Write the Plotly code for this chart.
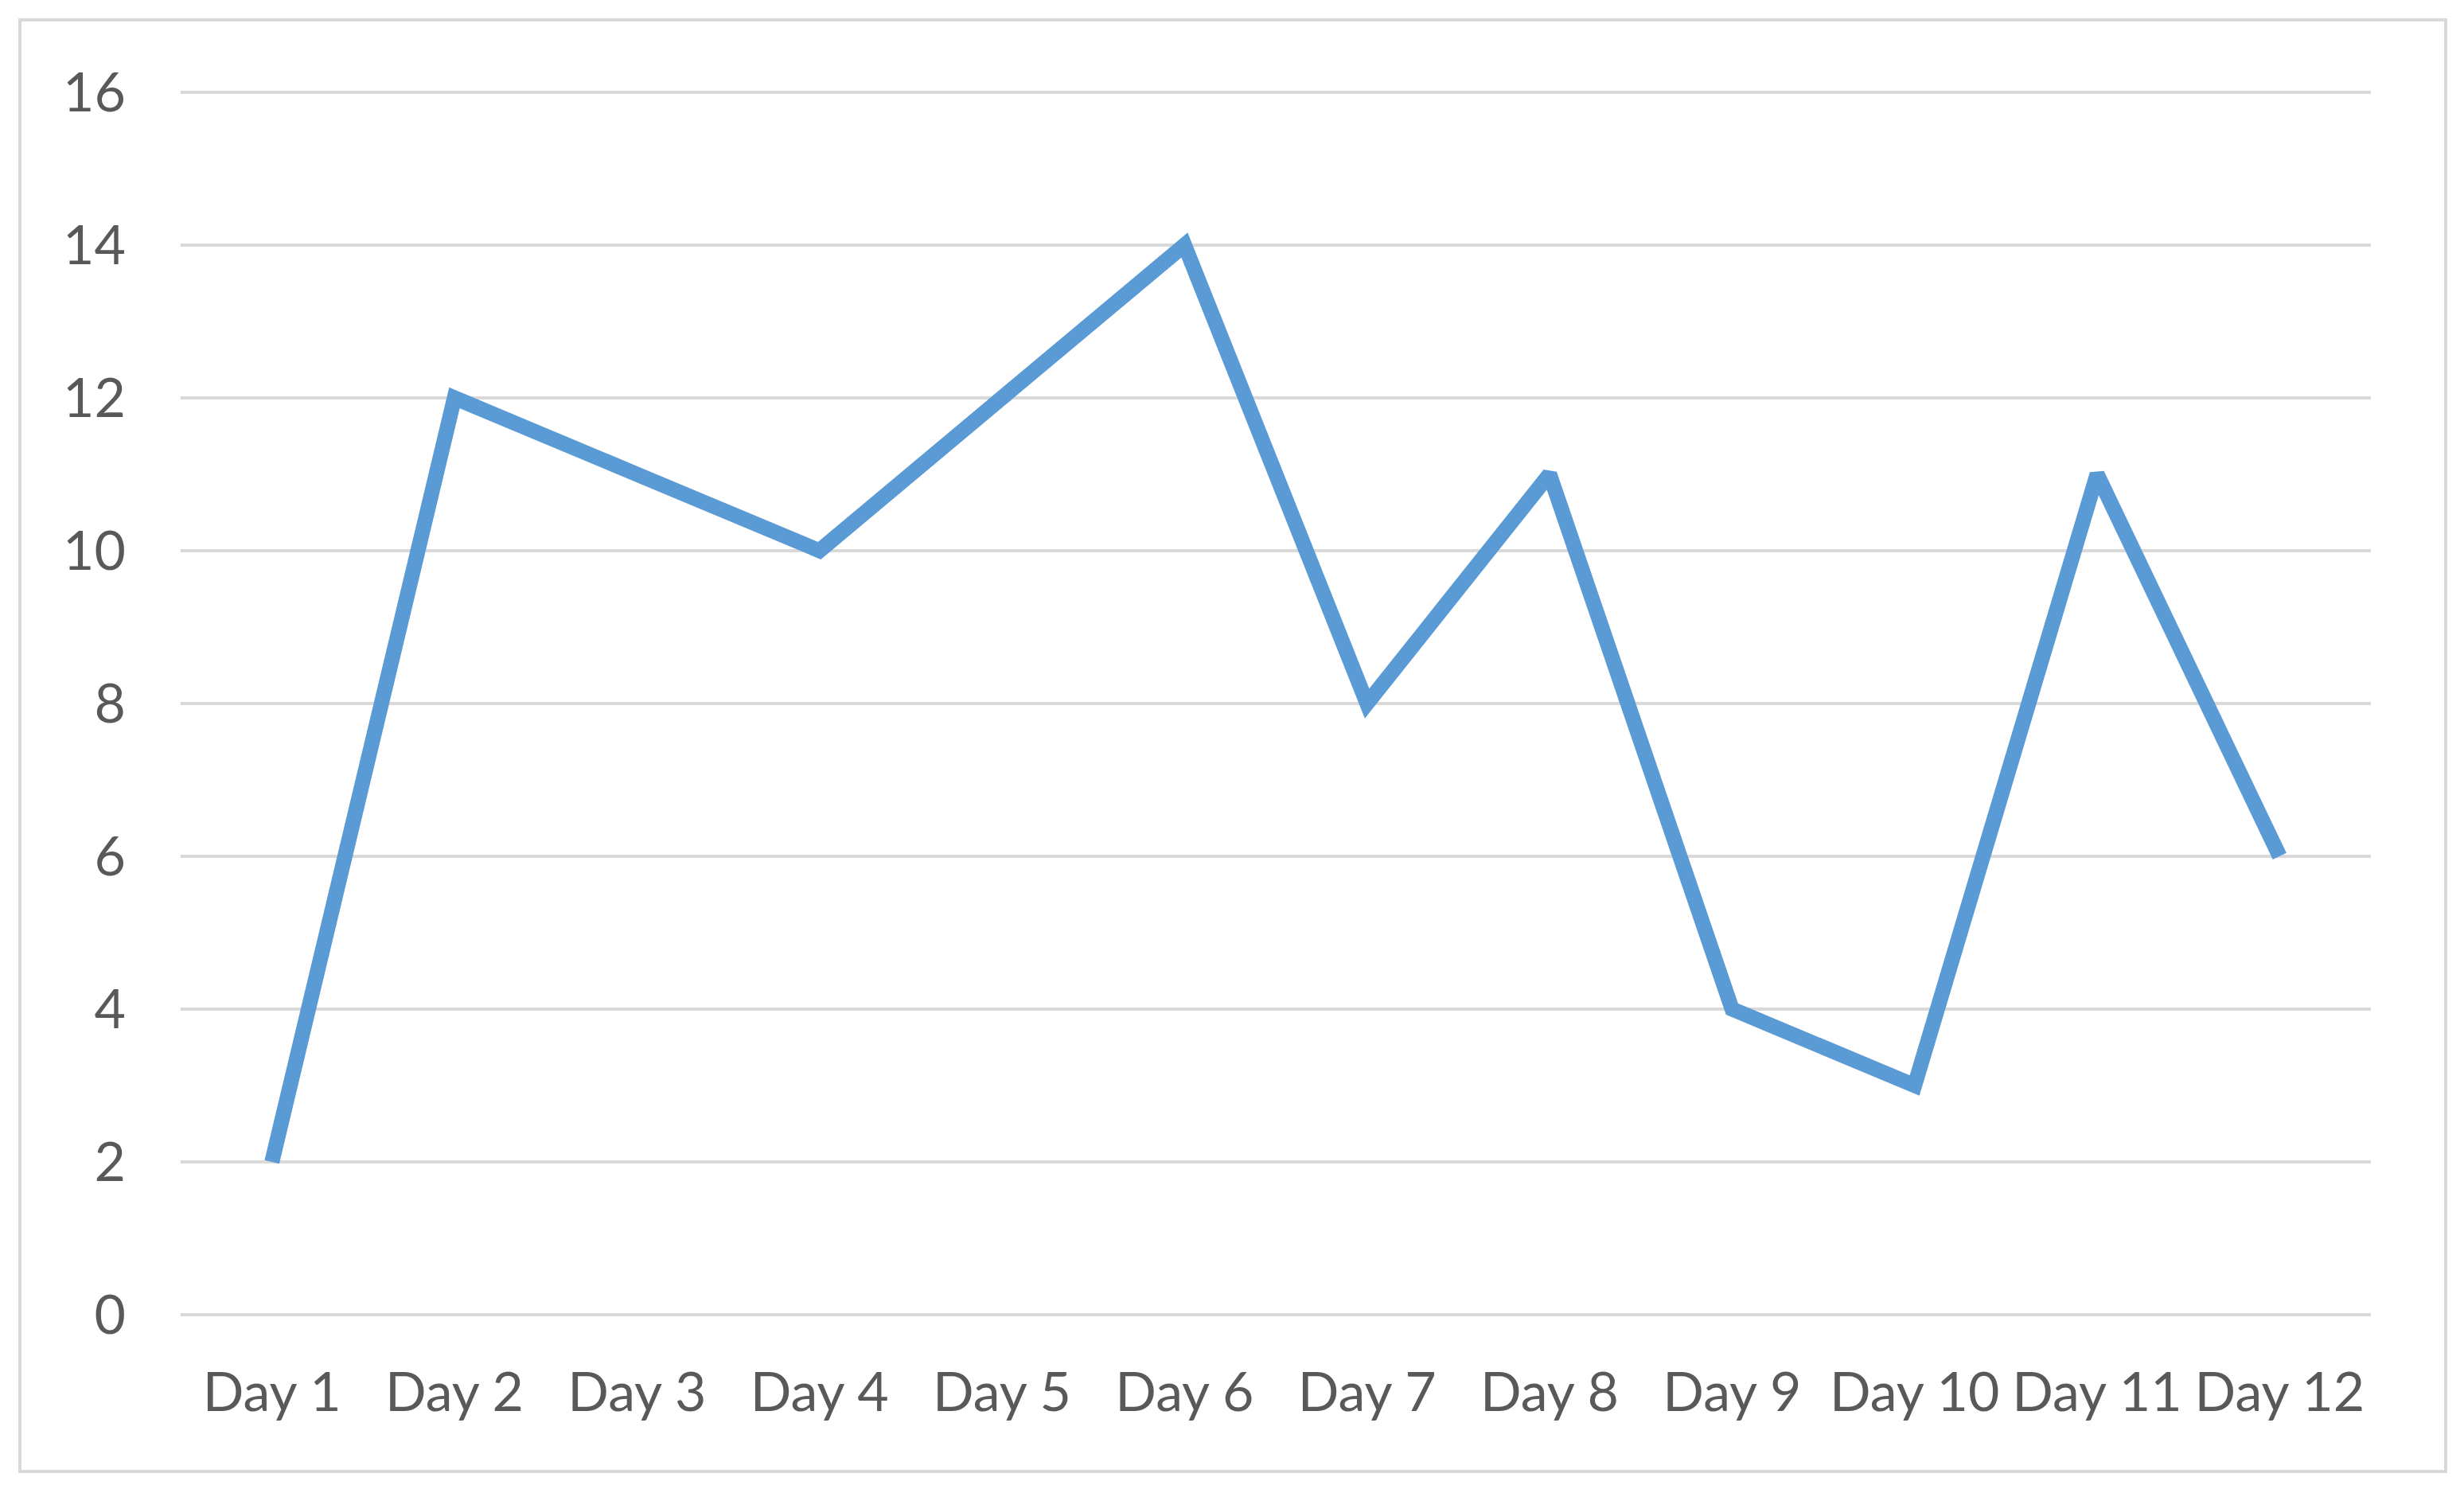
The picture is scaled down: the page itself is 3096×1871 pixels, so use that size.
import plotly.graph_objects as go

categories = ["Day 1", "Day 2", "Day 3", "Day 4", "Day 5", "Day 6",
              "Day 7", "Day 8", "Day 9", "Day 10", "Day 11", "Day 12"]
values = [2, 12, 11, 10, 12, 14, 8, 11, 4, 3, 11, 6]
y_ticks = [0, 2, 4, 6, 8, 10, 12, 14, 16]

OFF = 8  # page body margin
W, H = 3096 - 2 * OFF, 1871 - 2 * OFF
L = 227 - OFF
T = 112 - OFF
R = W - (2979 - OFF)
B = H - (1652 - OFF)
pw, ph = W - L - R, H - T - B

fig = go.Figure()
fig.add_trace(go.Scatter(
    x=categories, y=values, mode="lines",
    line=dict(color="#5b9bd5", width=19),
    hoverinfo="skip",
))

font = dict(family="Lato, Open Sans, sans-serif", size=68, color="#595959")

fig.update_layout(
    width=W, height=H,
    margin=dict(l=L, r=R, t=T, b=B),
    paper_bgcolor="white", plot_bgcolor="white",
    showlegend=False,
    font=font,
    xaxis=dict(
        type="category", showgrid=False, zeroline=False, showline=False,
        ticks="", tickfont=font, ticklabelstandoff=52,
        range=[-0.5, len(categories) - 0.5],
    ),
    yaxis=dict(
        range=[0, 16.04], tickvals=y_ticks, showgrid=True,
        gridcolor="#d9d9d9", gridwidth=4,
        zeroline=True, zerolinecolor="#d9d9d9", zerolinewidth=4,
        showline=False, ticks="", tickfont=font, ticklabelstandoff=68,
    ),
    shapes=[dict(
        type="rect", xref="paper", yref="paper",
        x0=(25 - OFF - L) / pw, x1=(3073 - OFF - L) / pw,
        y0=(H - B - (1849 - OFF)) / ph, y1=(H - B - (25 - OFF)) / ph,
        line=dict(color="#d9d9d9", width=4), fillcolor="rgba(0,0,0,0)",
        layer="below",
    )],
)

fig.write_html("out.html")
